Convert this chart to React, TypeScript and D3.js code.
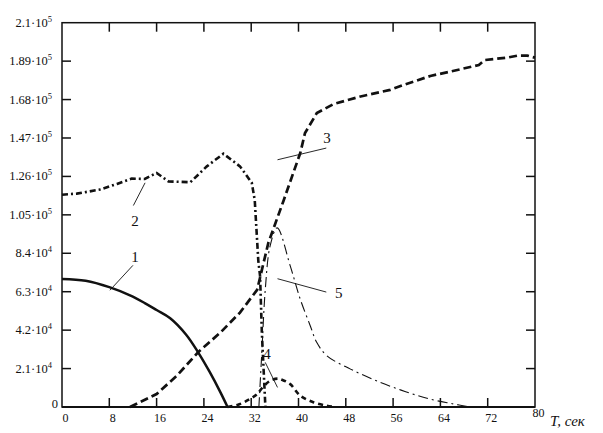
import React from "react";
import * as d3 from "d3";

const W = 603, H = 433;
const M = { left: 62, right: 535, top: 22.7, bottom: 407 };

// y tick labels: mantissa and exponent
const yTickVals = [0, 21000, 42000, 63000, 84000, 105000, 126000, 147000, 168000, 189000, 210000];
const yTickMant = ["0", "2.1", "4.2", "6.3", "8.4", "1.05", "1.26", "1.47", "1.68", "1.89", "2.1"];
const yTickExp = ["", "4", "4", "4", "4", "5", "5", "5", "5", "5", "5"];
const xTickVals = [0, 8, 16, 24, 32, 40, 48, 56, 64, 72, 80];

// curve 1 (solid)
const t1 = [0, 4, 8, 11.5, 14, 16, 18.3, 21, 23, 25, 26.8, 28];
const v1 = [70, 69, 65.5, 61, 56.8, 53, 48.5, 39.5, 30, 19, 8, 0];
// curve 2 (heavy dash-dot)
const t2 = [0, 2.5, 6.4, 9.3, 11.8, 14, 16, 18, 21.7, 24.5, 27.3, 30.1, 32.1, 32.6, 33.2, 33.5, 33.8, 34.4];
const v2 = [116, 116.6, 118.8, 121.9, 124.8, 124.6, 127.9, 123.3, 122.8, 131.5, 138.4, 131.5, 122.5, 113, 80, 71.6, 40.8, 0];
// curve 3 (heavy dashed)
const t3 = [11.5, 16, 19.4, 23.1, 26.8, 30.1, 33, 34.9, 37.5, 40.3, 41.1, 43.1, 45.9, 50.5, 55.5, 57.8, 62.3, 65.7, 70.5, 71.5, 75.3, 77, 78.7, 80];
const v3 = [0, 7.1, 17, 30.2, 40.7, 51.6, 64, 89.7, 113, 138.8, 149.7, 160.6, 165.5, 169.7, 173.3, 176, 180.9, 183.3, 186.9, 189.6, 190.9, 192, 192, 190.9];
// curve 4 (heavy short dashes)
const t4 = [28, 30, 31.8, 33, 34, 35.2, 36.5, 37.2, 38.6, 40.3, 42.6, 44.8, 46];
const v4 = [0, 1.5, 4.4, 7, 11, 14.3, 15.5, 14.9, 12.5, 6.2, 2.5, 0.7, 0];
// curve 5 (thin dash-dot)
const t5 = [33.3, 33.8, 34.4, 35.2, 36.4, 38.6, 40.3, 42, 43.1, 44.8, 48.8, 53.8, 58, 62, 66, 69];
const v5 = [0, 30, 65, 88, 97.9, 77.1, 58.9, 44.3, 35.2, 28, 20.7, 13.5, 8.5, 4.5, 1.8, 0];

// annotation labels (data units: T, value in thousands)
const annNames = ["1", "2", "3", "4", "5"];
const annText = [[12.36, 81.7], [12.36, 101.5], [44.8, 147], [34.66, 28.9], [46.8, 62.5]];
const annLine = [
  [[12.0, 77.4], [8.1, 63.8]],
  [[12.07, 110.1], [14.05, 122.5]],
  [[36.45, 135.1], [44.7, 141.5]],
  [[34.37, 24.4], [36.45, 10.7]],
  [[36.45, 70.1], [44.7, 62.8]],
];

export default function App() {
  const x = d3.scaleLinear().domain([0, 80]).range([M.left, M.right]);
  const y = d3.scaleLinear().domain([0, 210000]).range([M.bottom, M.top]);
  const mk = (t: number[], v: number[]) => t.map((tt, i) => [tt, v[i] * 1000] as [number, number]);
  const lin = d3.line<[number, number]>().x(d => x(d[0])).y(d => y(d[1]));
  const smooth = d3.line<[number, number]>().x(d => x(d[0])).y(d => y(d[1])).curve(d3.curveCatmullRom.alpha(0.5));
  const serif = "'Liberation Serif', 'Times New Roman', serif";
  return (
    <svg width={W} height={H} style={{ position: "absolute", left: 0, top: 0, background: "#fff" }} fontFamily={serif}>
      <rect x={0} y={0} width={W} height={H} fill="#fff" />
      {/* frame */}
      <rect x={M.left} y={M.top} width={M.right - M.left} height={M.bottom - M.top} fill="none" stroke="#111" strokeWidth={1.5} />
      <line x1={M.left} x2={M.right} y1={M.bottom} y2={M.bottom} stroke="#111" strokeWidth={2} />
      {/* ticks */}
      {yTickVals.slice(1, -1).map((v, i) => (
        <g key={"yt" + i}>
          <line x1={M.left} x2={M.left + 9} y1={y(v)} y2={y(v)} stroke="#111" strokeWidth={1.5} />
          <line x1={M.right} x2={M.right - 9} y1={y(v)} y2={y(v)} stroke="#111" strokeWidth={1.5} />
        </g>
      ))}
      {xTickVals.slice(1, -1).map((t, i) => (
        <g key={"xt" + i}>
          <line x1={x(t)} x2={x(t)} y1={M.bottom} y2={M.bottom - 9} stroke="#111" strokeWidth={1.5} />
          <line x1={x(t)} x2={x(t)} y1={M.top} y2={M.top + 9} stroke="#111" strokeWidth={1.5} />
        </g>
      ))}
      {/* y labels */}
      {yTickVals.map((v, i) => (
        <text key={"yl" + i} x={i === 0 ? 58 : 52} y={i === 0 ? y(v) + 1 : y(v) + 4} textAnchor="end" fontSize={12.5} fill="#111">
          {yTickMant[i]}
          {yTickExp[i] ? (
            <>
              <tspan>{"\u00B710"}</tspan>
              <tspan dy={-5} fontSize={8.5}>{yTickExp[i]}</tspan>
            </>
          ) : null}
        </text>
      ))}
      {/* x labels */}
      {xTickVals.map((t, i) => (
        <text key={"xl" + i} x={x(t) + 3.5} y={i === xTickVals.length - 1 ? 417 : 422} textAnchor="middle" fontSize={12} fill="#111">
          {t}
        </text>
      ))}
      <text x={550} y={426} fontSize={15} fontStyle="italic" fill="#111">T, сек</text>
      {/* curves */}
      <path d={smooth(mk(t1, v1)) || ""} fill="none" stroke="#111" strokeWidth={2.5} />
      <path d={lin(mk(t2, v2)) || ""} fill="none" stroke="#111" strokeWidth={2.6} strokeDasharray="6 3 2 3" />
      <path d={lin(mk(t3, v3)) || ""} fill="none" stroke="#111" strokeWidth={2.7} strokeDasharray="8 4" />
      <path d={smooth(mk(t4, v4)) || ""} fill="none" stroke="#111" strokeWidth={2.6} strokeDasharray="5 4" />
      <path d={smooth(mk(t5, v5)) || ""} fill="none" stroke="#111" strokeWidth={1.1} strokeDasharray="10 4 2 4" />
      {/* annotations */}
      {annNames.map((n, i) => (
        <g key={"an" + i}>
          <line x1={x(annLine[i][0][0])} y1={y(annLine[i][0][1] * 1000)} x2={x(annLine[i][1][0])} y2={y(annLine[i][1][1] * 1000)} stroke="#111" strokeWidth={0.9} />
          <text x={x(annText[i][0])} y={y(annText[i][1] * 1000) + 5} textAnchor="middle" fontSize={15} fill="#111">{n}</text>
        </g>
      ))}
    </svg>
  );
}
